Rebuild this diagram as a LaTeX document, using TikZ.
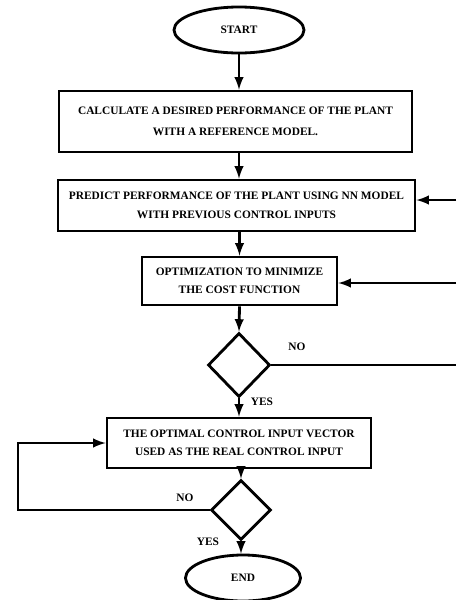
\documentclass[tikz,border=0pt]{standalone}
\usepackage{fontspec}
\setmainfont{Liberation Serif}
\usetikzlibrary{arrows,shapes.geometric,calc}
\tikzset{>=latex}
\tikzset{
  flow/.style={line width=2pt,->},
  edge/.style={line width=2pt},
  box/.style={draw,line width=2pt,rectangle,align=center,inner sep=0pt,
    font=\fontsize{8.1}{15}\selectfont\bfseries},
  decision/.style={draw,line width=2pt,diamond,inner sep=0pt},
  terminal/.style={draw,line width=2pt,ellipse,inner sep=0pt,
    font=\fontsize{8.1}{9}\selectfont\bfseries},
  lbl/.style={font=\fontsize{8.1}{9}\selectfont\bfseries},
}

\begin{document}
\begin{tikzpicture}[x=0.025cm,y=-0.025cm]
  \useasboundingbox (0,0) rectangle (456,600);

  % Vertices
  \node[terminal,minimum width=3.25cm,minimum height=1.15cm] (start) at (239,30) {START};
  \node[box,minimum width=8.825cm,minimum height=1.525cm] (calc) at (235.5,121.5)
    {CALCULATE A DESIRED PERFORMANCE OF THE PLANT\\WITH A REFERENCE MODEL.};
  \node[box,minimum width=8.925cm,minimum height=1.275cm,font=\fontsize{8.1}{13.5}\selectfont\bfseries] (pred) at (236.5,205.5)
    {PREDICT PERFORMANCE OF THE PLANT USING NN MODEL\\WITH PREVIOUS CONTROL INPUTS};
  \node[box,minimum width=4.875cm,minimum height=1.2cm,font=\fontsize{8.1}{12.5}\selectfont\bfseries] (opt) at (239.5,281)
    {OPTIMIZATION TO MINIMIZE\\THE COST FUNCTION};
  \node[decision,minimum width=1.55cm,minimum height=1.6cm] (chk1) at (239,365) {};
  \node[box,minimum width=6.6cm,minimum height=1.25cm,font=\fontsize{8.1}{13}\selectfont\bfseries] (optu) at (239,443)
    {THE OPTIMAL CONTROL INPUT VECTOR\\USED AS THE REAL CONTROL INPUT};
  \node[decision,minimum width=1.5cm,minimum height=1.5cm] (chk2) at (241,510) {};
  \node[terminal,minimum width=2.875cm,minimum height=1.15cm] (end) at (243,578) {END};
  \coordinate (in1) at (456,200);
  \coordinate (in2) at (456,283);
  \coordinate (out1) at (456,365);
  \coordinate (loop) at (18,510);

  % Lines
  \draw[flow] (start.south) -- (start.south |- calc.north);
  \draw[flow] (start.south |- calc.south) -- (start.south |- pred.north);
  \draw[flow] (opt.north |- pred.south) -- (opt.north);
  \draw[flow] (opt.south) -- (chk1.north);
  \draw[flow] (chk1.south) -- (chk1.south |- optu.north);
  \draw[flow] (chk2.north |- optu.south) -- (chk2.north);
  \draw[flow] (chk2.south) -- (chk2.south |- end.north);
  \draw[flow] (in1) -- (in1 -| pred.east);
  \draw[flow] (in2) -- (opt.east |- in2);
  \draw[edge] (chk1.east) -- (out1);
  \draw[flow] (chk2.west) -- (loop) |- (optu.west);

  % Labels
  \node[lbl] (no1) at (297,347) {NO};
  \node[lbl] (yes1) at (262,402) {YES};
  \node[lbl] (no2) at (185,498) {NO};
  \node[lbl] (yes2) at (208,542) {YES};
\end{tikzpicture}
\end{document}
